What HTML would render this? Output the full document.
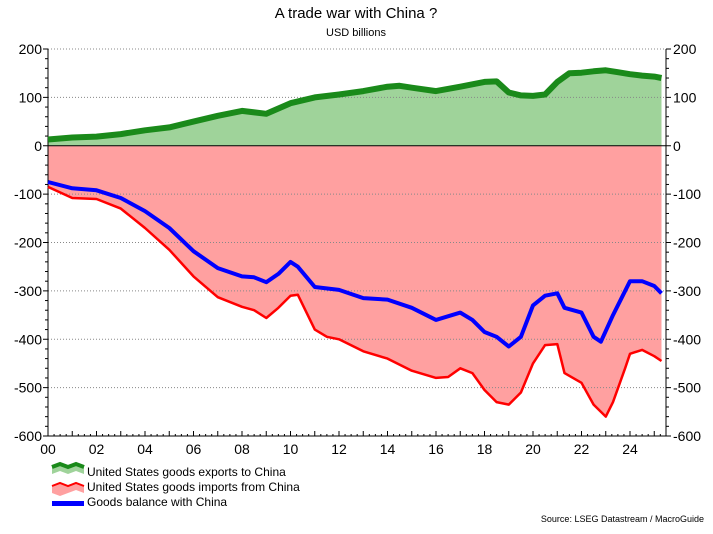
<!DOCTYPE html>
<html><head><meta charset="utf-8"><style>
body{margin:0;background:#fff;font-family:"Liberation Sans",sans-serif}
svg text{font-family:"Liberation Sans",sans-serif}
</style></head><body>
<svg id="c" width="713" height="529" xmlns="http://www.w3.org/2000/svg">
<text x="356" y="18" text-anchor="middle" font-size="15">A trade war with China ?</text>
<text x="356" y="36" text-anchor="middle" font-size="11">USD billions</text>
<g id="plot"></g>
<g>
<path d="M52 467 l8 -3 l8 3 l8 -3 l8 3 v7 l-8 -3 l-8 3 l-8 -3 l-8 3z" fill="#9fd39a"/>
<path d="M52 467 l8 -3 l8 3 l8 -3 l8 3" fill="none" stroke="#1a8a1a" stroke-width="4"/>
<text x="87" y="476" font-size="12">United States goods exports to China</text>
<path d="M52 486 l8 -3 l8 3 l8 -3 l8 3 v7 l-8 -3 l-8 3 l-8 3 l-8 -3z" fill="#ffa0a0"/>
<path d="M52 486 l8 -3 l8 3 l8 -3 l8 3" fill="none" stroke="#f00" stroke-width="2"/>
<text x="87" y="491" font-size="12">United States goods imports from China</text>
<rect x="52" y="501" width="32" height="5" fill="#00f"/>
<text x="87" y="506" font-size="12">Goods balance with China</text>
</g>
<text x="704" y="522" text-anchor="end" font-size="9">Source: LSEG Datastream / MacroGuide</text>
</svg>
<script>
const yTicks=[200,100,0,-100,-200,-300,-400,-500,-600];
const xTickLabels=["00","02","04","06","08","10","12","14","16","18","20","22","24"];
const expDates=[2000,2001,2002,2003,2004,2005,2006,2007,2008,2009,2010,2011,2012,2013,2014,2014.5,2015,2016,2017,2018,2018.5,2019,2019.5,2020,2020.5,2021,2021.5,2022,2022.5,2023,2023.5,2024,2024.5,2025,2025.3];
const exportsV=[13,17,19,24,32,38,50,62,72,66,88,100,106,113,122,124,120,113,122,132,133,110,104,103,106,132,150,151,154,156,152,148,145,143,140];
const impDates=[2000,2001,2002,2003,2004,2005,2006,2007,2008,2008.5,2009,2009.5,2010,2010.3,2011,2011.5,2012,2013,2014,2015,2016,2016.5,2017,2017.5,2018,2018.5,2019,2019.5,2020,2020.5,2021,2021.3,2022,2022.5,2023,2023.3,2023.8,2024,2024.5,2025,2025.3];
const importsV=[-85,-108,-110,-130,-170,-215,-270,-313,-333,-340,-356,-335,-310,-308,-380,-395,-400,-425,-440,-465,-480,-478,-460,-470,-505,-530,-535,-510,-450,-412,-410,-470,-490,-535,-560,-530,-460,-430,-422,-435,-445];
const balDates=[2000,2001,2002,2003,2004,2005,2006,2007,2008,2008.5,2009,2009.5,2010,2010.3,2011,2012,2013,2014,2015,2016,2017,2017.5,2018,2018.5,2019,2019.5,2020,2020.5,2021,2021.3,2022,2022.5,2022.8,2023.3,2024,2024.5,2025,2025.3];
const balanceV=[-75,-88,-92,-108,-135,-170,-218,-253,-270,-272,-282,-265,-240,-250,-292,-298,-315,-318,-335,-360,-345,-360,-385,-395,-415,-395,-330,-310,-305,-335,-345,-395,-405,-350,-280,-280,-290,-305];

const L=48,R=666,T=49,B=436,PX=24.25;
const X=d=>L+(d-2000)*PX;
const Y=v=>T+(200-v)*(B-T)/800;
const NS="http://www.w3.org/2000/svg";
const g=document.getElementById('plot');
function mk(tag,a){const e=document.createElementNS(NS,tag);for(const k in a)e.setAttribute(k,a[k]);g.appendChild(e);return e;}
function pts(ds,vs){return ds.map((d,i)=>X(d).toFixed(1)+','+Y(vs[i]).toFixed(1)).join(' ');}
let e=mk('polygon',{points:X(expDates[0])+','+Y(0)+' '+pts(expDates,exportsV)+' '+X(expDates[expDates.length-1])+','+Y(0),fill:'#9fd39a'});


e=mk('polygon',{points:X(impDates[0])+','+Y(0)+' '+pts(impDates,importsV)+' '+X(impDates[impDates.length-1])+','+Y(0),fill:'#ffa0a0'});


yTicks.forEach(v=>{
  if(v!==0&&v!==-600){const l=mk('line',{x1:L,x2:R,y1:Y(v),y2:Y(v),stroke:'#888','stroke-dasharray':'1,2','stroke-width':1});
  
  }
  let t=mk('text',{x:L-6,y:Y(v)+5,'text-anchor':'end','font-size':14});t.textContent=v;
  
  
  t=mk('text',{x:R+7,y:Y(v)+5,'font-size':14});t.textContent=v;
  
  
});
for(let v=-600;v<=200;v+=20){const big=v%100===0;
  mk('line',{x1:L-(big?5:3),x2:L,y1:Y(v),y2:Y(v),stroke:'#000'});
  mk('line',{x1:R,x2:R+(big?5:3),y1:Y(v),y2:Y(v),stroke:'#000'});}
e=mk('line',{x1:L,x2:R,y1:Y(0),y2:Y(0),stroke:'#000','stroke-width':1});


mk('line',{x1:L,x2:L,y1:T,y2:B,stroke:'#000'});
mk('line',{x1:R,x2:R,y1:T,y2:B,stroke:'#000'});
mk('line',{x1:L,x2:R,y1:B,y2:B,stroke:'#000'});
for(let q=0;q<=102;q++){const x=L+q*PX/4;if(x>R)break;mk('line',{x1:x,x2:x,y1:B,y2:B-(q%4==0?5:2),stroke:'#000'});}
xTickLabels.forEach((s,i)=>{const t=mk('text',{x:X(2000+i*2),y:B+18,'text-anchor':'middle','font-size':14});t.textContent=s;
  
  });
e=mk('polyline',{points:pts(expDates,exportsV),fill:'none',stroke:'#1a8a1a','stroke-width':6,'stroke-linejoin':'round'});


e=mk('polyline',{points:pts(impDates,importsV),fill:'none',stroke:'#f00','stroke-width':2.5,'stroke-linejoin':'round'});


e=mk('polyline',{points:pts(balDates,balanceV),fill:'none',stroke:'#00f','stroke-width':4,'stroke-linejoin':'round'});


</script>
</body></html>
